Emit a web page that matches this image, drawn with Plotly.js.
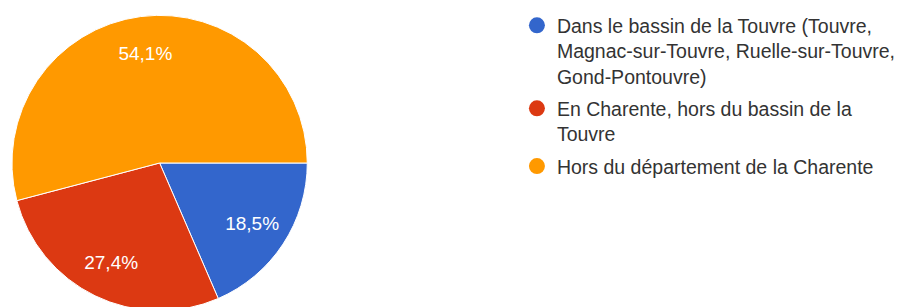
<!DOCTYPE html>
<html>
<head>
<meta charset="utf-8">
<script src="https://cdn.plot.ly/plotly-3.0.1.min.js"></script>
<style>
html,body{margin:0;padding:0;background:#fff;overflow:hidden;width:901px;height:307px;}
#chart{width:901px;height:311px;}
</style>
</head>
<body>
<div id="chart"></div>
<script>
const categories = [
  "Dans le bassin de la Touvre (Touvre,<br>Magnac-sur-Touvre, Ruelle-sur-Touvre,<br>Gond-Pontouvre)",
  "En Charente, hors du bassin de la<br>Touvre",
  "Hors du département de la Charente"
];
const values = [18.5, 27.4, 54.1];
const colors = ["#3366cc", "#dc3912", "#ff9900"];

const pieDomain = {x: [0.0133, 0.3418], y: [0, 1]};
const font = "Liberation Sans, Arial, sans-serif";

const traces = [
  {
    type: "pie",
    values: values,
    labels: categories,
    sort: false,
    direction: "clockwise",
    rotation: 90,
    marker: {colors: colors, line: {color: "#ffffff", width: 1}},
    textinfo: "none",
    hoverinfo: "label+percent",
    showlegend: false,
    domain: pieDomain
  },
  {
    // transparent ring used only to carry the percentage labels
    type: "pie",
    values: values,
    labels: categories,
    sort: false,
    direction: "clockwise",
    rotation: 90,
    hole: 0.5,
    marker: {colors: ["rgba(0,0,0,0)", "rgba(0,0,0,0)", "rgba(0,0,0,0)"], line: {width: 0}},
    textinfo: "percent",
    texttemplate: "%{percent:.1%}",
    textposition: "inside",
    insidetextorientation: "horizontal",
    textfont: {family: font, size: 19, color: "#ffffff"},
    hoverinfo: "skip",
    showlegend: false,
    domain: pieDomain
  }
];

categories.forEach((c, i) => {
  traces.push({
    type: "scatter",
    mode: "markers",
    x: [null], y: [null],
    name: c,
    legendgroup: "g" + i,
    marker: {symbol: "circle", size: 16, color: colors[i]},
    showlegend: true,
    hoverinfo: "skip"
  });
});

const layout = {
  width: 901,
  height: 311,
  margin: {l: 0, r: 0, t: 15, b: 0},
  paper_bgcolor: "#ffffff",
  plot_bgcolor: "#ffffff",
  separators: ", ",
  xaxis: {visible: false, domain: [0.6, 1]},
  yaxis: {visible: false},
  showlegend: true,
  legend: {
    x: 0.575, y: 1.03, xanchor: "left", yanchor: "top",
    valign: "top",
    maxheight: 300,
    font: {family: font, size: 19.5, color: "#333333"},
    bgcolor: "rgba(0,0,0,0)",
    tracegroupgap: 4
  }
};

Plotly.newPlot("chart", traces, layout, {displayModeBar: false, staticPlot: true});
</script>
</body>
</html>
